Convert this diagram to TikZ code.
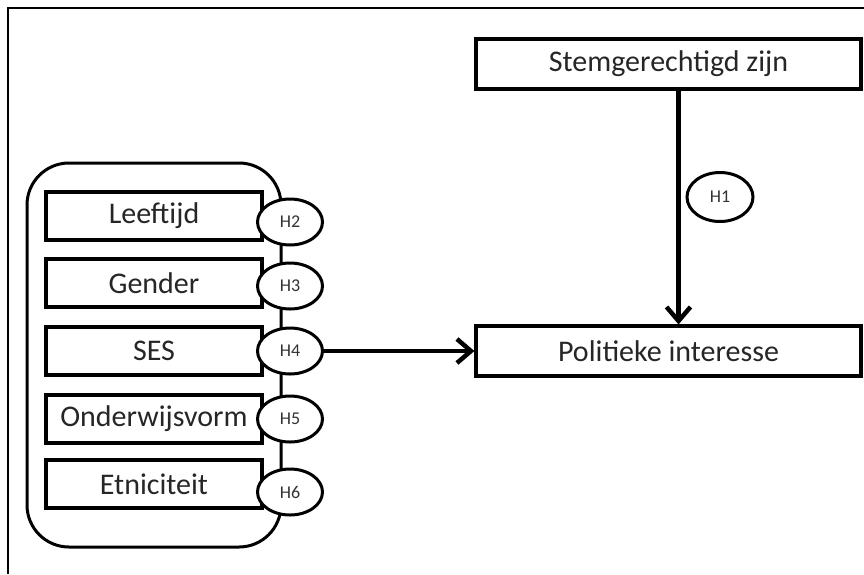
\documentclass[tikz,border=0pt]{standalone}
\usepackage{fontspec}
\setmainfont{Carlito}
\usetikzlibrary{arrows.meta,positioning,shapes.geometric}
\tikzset{
    factor/.style={draw, line width=3.2pt, text=black!85, inner sep=0pt,
        minimum width=216pt, minimum height=48pt, font=\fontsize{30}{36}\selectfont},
    outcome/.style={factor, minimum width=385pt, minimum height=50pt},
    hyp/.style={draw, ellipse, fill=white, line width=3pt, text=black!80, inner sep=0pt,
        minimum width=65pt, minimum height=46pt, font=\fontsize{18}{22}\selectfont},
    group/.style={draw, line width=3pt, rounded corners=42pt},
    effect/.style={line width=4.5pt, -{Straight Barb[length=14pt,width=24pt]}}
}

\begin{document}
\begin{tikzpicture}[x=1pt,y=-1pt]
    \useasboundingbox (0,0) rectangle (864,574);

    % Draw frame.
    \draw[line width=2pt] (7.5,574) -- (7.5,8) -- (864,8);

    % Draw group round the factors.
    \node[group, minimum width=254pt, minimum height=384pt] (grp) at (154,355) {};

    % Draw factors with their hypotheses.
    \foreach \n/\t/\y/\h/\hy in {leeftijd/Leeftijd/216/H2/222, gender/Gender/283/H3/286,
                                 ses/SES/351/H4/351, onderwijs/Onderwijsvorm/419/H5/419,
                                 etniciteit/Etniciteit/484/H6/492}
    {
        \node[factor] (\n) at (154,\y) {\t};
        \node[hyp] (\h) at (290,\hy) {\h};
    }

    % Draw outcome and voting right.
    \node[outcome] (stem) at (668.5,64) {Stemgerechtigd zijn};
    \node[outcome] (pol) at (668.5,351) {Politieke interesse};
    \node[hyp, minimum width=66pt, minimum height=49pt] (H1) at (720,197) {H1};

    % Draw effects.
    \draw[effect] ([xshift=10pt]stem.south) -- ([xshift=10pt]pol.north);
    \draw[effect] (H4.east) -- (pol.west);
\end{tikzpicture}
\end{document}
